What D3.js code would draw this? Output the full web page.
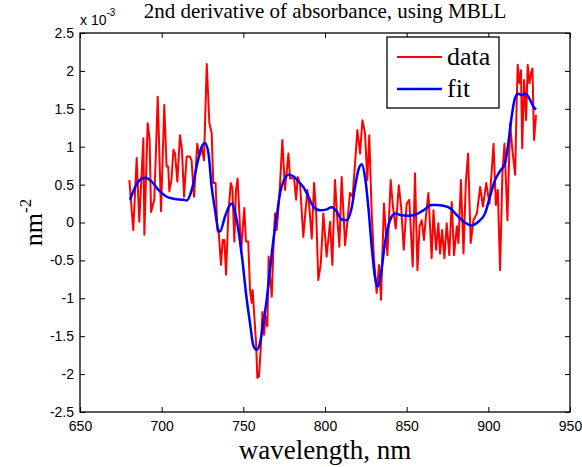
<!DOCTYPE html>
<html>
<head>
<meta charset="utf-8">
<script src="https://cdn.jsdelivr.net/npm/d3@7"></script>
<style>
  body { margin: 0; background: #fff; }
  svg { display: block; }
  .tick-label { font-family: "Liberation Sans", Arial, sans-serif; font-size: 14px; fill: #000; }
  .serif { font-family: "Liberation Serif", "Times New Roman", serif; fill: #000; }
</style>
</head>
<body>
<svg id="chart" width="582" height="467"></svg>
<script>
// measured data (values in units of 1e-3 nm^-2)
const dataWl = [
  680.2, 682.6, 684.7, 686.3, 688.8, 689.4, 691.4, 692.6, 693.5, 695.5,
  697.6, 699.6, 701.6, 703.0, 704.0, 704.7, 706.0, 707.2, 708.2, 709.6,
  711.2, 712.4, 713.7, 715.3, 717.3, 718.3, 719.8, 721.8, 723.0, 724.6,
  725.9, 727.6, 729.2, 730.6, 731.6, 733.0, 734.1, 735.0, 736.3, 737.4,
  738.4, 739.4, 740.8, 742.3, 743.3, 744.5, 745.5, 746.5, 747.6, 748.6,
  749.6, 750.6, 751.6, 753.0, 754.1, 755.1, 755.7, 756.8, 757.8, 758.6,
  759.6, 760.6, 761.7, 762.7, 763.7, 764.7, 765.5, 766.3, 767.4, 768.4,
  769.4, 770.4, 771.4, 772.5, 773.9, 775.5, 777.6, 778.6, 779.6, 781.0,
  782.3, 783.3, 784.7, 786.7, 789.2, 790.4, 791.9, 793.3, 794.6, 795.9,
  797.4, 799.0, 801.0, 803.1, 804.5, 806.1, 807.6, 808.8, 810.2, 812.3,
  813.9, 815.3, 816.9, 818.4, 819.8, 821.5, 822.9, 824.5, 825.9, 827.1,
  828.6, 830.0, 831.6, 833.1, 834.3, 836.1, 838.2, 840.2, 841.6, 843.3,
  845.2, 846.6, 848.2, 850.0, 851.6, 853.7, 855.1, 856.6, 857.9, 859.2,
  860.6, 861.8, 863.3, 865.3, 866.4, 868.0, 869.4, 870.4, 871.7, 873.1,
  874.5, 876.1, 877.6, 879.0, 880.7, 881.7, 883.2, 884.8, 886.2, 887.6,
  889.2, 890.9, 893.0, 895.0, 896.7, 898.7, 900.7, 903.2, 904.6, 905.8,
  907.2, 908.6, 909.9, 911.7, 913.3, 914.7, 916.4, 917.4, 918.0, 919.0,
  920.0, 920.7, 921.9, 923.1, 924.1, 925.2, 926.1, 927.0, 928.0, 929.2
];
const dataVal = [
  0.56, -0.10, 0.85, 0.01, 1.11, -0.16, 1.31, 1.11, 0.14, 0.30,
  1.66, 0.15, 1.55, 0.74, 0.74, 0.41, 0.56, 0.96, 0.91, 0.54,
  1.15, 0.96, 0.34, 0.87, 0.87, 0.82, 0.34, 1.04, 0.87, 0.98,
  0.82, 2.09, 1.31, 1.18, 0.52, 0.52, -0.10, -0.15, -0.56, -0.23,
  -0.23, -0.69, 0.10, 0.52, 0.45, -0.25, 0.43, 0.58, 0.10, -0.40,
  -0.08, 0.19, -0.25, -0.25, -0.89, -1.06, -0.89, -1.26, -1.59, -2.05,
  -2.03, -1.68, -1.18, -1.48, -1.24, -1.37, -0.45, -0.71, -0.98, -0.35,
  0.12, -0.10, 0.16, 0.52, 1.09, 0.43, 0.91, 0.58, 0.58, 0.60,
  0.30, 0.60, 0.52, -0.19, 0.43, 0.21, -0.21, 0.52, 0.12, -0.76,
  -0.55, 0.12, -0.45, 0.01, -0.56, 0.56, 0.03, -0.32, 0.60, -0.30,
  0.05, 0.39, 0.34, 0.78, 1.22, 0.91, 1.35, 1.18, 0.56, 1.15,
  0.12, -0.49, -0.93, -0.56, -1.02, 0.25, -0.43, 0.56, 0.21, -0.08,
  0.49, 0.21, -0.36, 0.25, 0.30, -0.58, 0.65, -0.63, -0.05, 0.03,
  -0.23, 0.08, 0.39, -0.47, 0.16, -0.36, -0.01, -0.41, -0.10, -0.47,
  -0.01, -0.43, 0.27, -0.43, -0.05, -0.27, 0.56, -0.41, 0.52, 0.91,
  -0.27, 0.03, 0.12, 0.47, 0.21, 0.52, 0.25, 1.04, 0.23, 0.43,
  -0.63, 0.65, 1.04, 0.03, 1.31, 0.96, 0.63, 1.62, 2.08, 1.84,
  2.01, 0.98, 1.88, 1.35, 2.08, 1.84, 1.97, 2.03, 1.09, 1.42
];
const fitWl = [
  680.6, 685.7, 689.8, 693.9, 698.0, 703.1, 708.2, 713.3, 715.3, 718.4,
  721.8, 724.5, 726.5, 728.6, 730.6, 732.7, 734.7, 735.7, 738.8, 741.8,
  743.3, 745.5, 747.6, 749.6, 751.6, 754.1, 756.1, 758.2, 760.2, 762.2,
  764.3, 766.3, 768.4, 770.4, 772.5, 774.9, 777.6, 780.6, 783.7, 786.7,
  789.0, 792.9, 797.0, 800.5, 804.1, 807.0, 810.2, 813.3, 816.3, 818.4,
  820.4, 822.5, 824.5, 826.5, 828.6, 830.6, 832.2, 834.3, 836.7, 839.8,
  842.9, 845.9, 851.0, 855.0, 860.2, 865.3, 868.4, 872.4, 876.5, 880.6,
  885.7, 889.8, 893.9, 898.0, 901.0, 904.1, 907.2, 910.2, 912.2, 914.3,
  916.3, 918.4, 920.4, 922.9, 925.5, 927.5, 929.2
];
const fitVal = [
  0.30, 0.54, 0.59, 0.54, 0.43, 0.34, 0.31, 0.30, 0.29, 0.43,
  0.78, 1.00, 1.05, 0.92, 0.47, 0.16, -0.10, -0.12, 0.08, 0.23,
  0.25, 0.08, -0.19, -0.53, -0.93, -1.33, -1.62, -1.68, -1.59, -1.33,
  -1.02, -0.63, -0.23, 0.08, 0.39, 0.56, 0.63, 0.61, 0.54, 0.47,
  0.38, 0.21, 0.16, 0.17, 0.20, 0.15, 0.04, 0.03, 0.19, 0.47,
  0.69, 0.77, 0.60, 0.21, -0.32, -0.72, -0.85, -0.67, -0.27, 0.03,
  0.12, 0.10, 0.09, 0.10, 0.16, 0.23, 0.23, 0.22, 0.19, 0.10,
  0.00, -0.04, 0.01, 0.12, 0.34, 0.56, 0.68, 0.78, 1.04, 1.40,
  1.64, 1.70, 1.68, 1.70, 1.62, 1.53, 1.49
];

const xTicks = [650, 700, 750, 800, 850, 900, 950];
const yTicks = [-2.5, -2, -1.5, -1, -0.5, 0, 0.5, 1, 1.5, 2, 2.5];
const legendItems = [
  { label: "data", color: "#ff0000" },
  { label: "fit", color: "#0000ff" },
];

const svg = d3.select("#chart");
const margin = { top: 33, right: 12, bottom: 55, left: 80 };
const width = 582, height = 467;
const innerW = width - margin.left - margin.right;
const innerH = height - margin.top - margin.bottom;
const midX = margin.left + innerW / 2;

const x = d3.scaleLinear().domain([650, 950]).range([margin.left, margin.left + innerW]);
const y = d3.scaleLinear().domain([-2.5, 2.5]).range([margin.top + innerH, margin.top]);

const fmt = (d) => String(d);

// ---------------------------
// Axes (MATLAB style box, inward ticks on all four sides)
// ---------------------------
const tickLen = 5;

const xAxisB = d3.axisBottom(x).tickValues(xTicks).tickSizeInner(-tickLen).tickSizeOuter(0).tickPadding(9).tickFormat(fmt);
const xAxisT = d3.axisTop(x).tickValues(xTicks).tickSizeInner(-tickLen).tickSizeOuter(0).tickFormat("");
const yAxisL = d3.axisLeft(y).tickValues(yTicks).tickSizeInner(-tickLen).tickSizeOuter(0).tickPadding(6).tickFormat(fmt);
const yAxisR = d3.axisRight(y).tickValues(yTicks).tickSizeInner(-tickLen).tickSizeOuter(0).tickFormat("");

function styleAxis(g) {
  g.select(".domain").remove();
  g.selectAll(".tick line").attr("stroke", "#000").attr("stroke-width", 1);
  g.selectAll(".tick text").attr("class", "tick-label");
}

svg.append("g").attr("transform", `translate(0,${margin.top + innerH})`).call(xAxisB).call(styleAxis);
svg.append("g").attr("transform", `translate(0,${margin.top})`).call(xAxisT).call(styleAxis);
svg.append("g").attr("transform", `translate(${margin.left},0)`).call(yAxisL).call(styleAxis);
svg.append("g").attr("transform", `translate(${margin.left + innerW},0)`).call(yAxisR).call(styleAxis);

// ---------------------------
// Lines
// ---------------------------
const dataPts = dataWl.map((w, i) => [w, dataVal[i]]);
const fitPts = fitWl.map((w, i) => [w, fitVal[i]]);

const rawLine = d3.line().x((d) => x(d[0])).y((d) => y(d[1]));
const smoothLine = d3.line().x((d) => x(d[0])).y((d) => y(d[1])).curve(d3.curveMonotoneX);

svg.append("path")
  .datum(dataPts)
  .attr("fill", "none")
  .attr("stroke", "#ff0000")
  .attr("stroke-width", 2)
  .attr("stroke-linejoin", "round")
  .attr("d", rawLine);

svg.append("path")
  .datum(fitPts)
  .attr("fill", "none")
  .attr("stroke", "#0000ff")
  .attr("stroke-width", 2.5)
  .attr("stroke-linejoin", "round")
  .attr("d", smoothLine);

// axes box
svg.append("rect")
  .attr("x", margin.left)
  .attr("y", margin.top)
  .attr("width", innerW)
  .attr("height", innerH)
  .attr("fill", "none")
  .attr("stroke", "#000")
  .attr("stroke-width", 1.3);

// ---------------------------
// Legend
// ---------------------------
const legend = svg.append("g").attr("transform", "translate(387,37)");
legend.append("rect")
  .attr("width", 112)
  .attr("height", 71)
  .attr("fill", "#fff")
  .attr("stroke", "#000")
  .attr("stroke-width", 1.3);

legend.selectAll("g.item")
  .data(legendItems)
  .join("g")
  .attr("class", "item")
  .attr("transform", (d, i) => `translate(0,${20 + i * 32})`)
  .each(function (d) {
    const g = d3.select(this);
    g.append("line")
      .attr("x1", 10).attr("x2", 55)
      .attr("stroke", d.color)
      .attr("stroke-width", d.label === "fit" ? 2.5 : 2);
    g.append("text")
      .attr("class", "serif")
      .attr("x", 60)
      .attr("y", 8)
      .attr("font-size", 26)
      .text(d.label);
  });

// ---------------------------
// Titles and labels
// ---------------------------
svg.append("text")
  .attr("class", "serif")
  .attr("x", midX)
  .attr("y", 18)
  .attr("text-anchor", "middle")
  .attr("font-size", 21)
  .text("2nd derivative of absorbance, using MBLL");

const expo = svg.append("text")
  .attr("class", "tick-label")
  .attr("x", margin.left)
  .attr("y", 25);
expo.append("tspan").text("x 10");
expo.append("tspan").attr("dy", -9).attr("font-size", 10).text("-3");

svg.append("text")
  .attr("class", "serif")
  .attr("x", midX)
  .attr("y", 459)
  .attr("text-anchor", "middle")
  .attr("font-size", 27)
  .text("wavelength, nm");

const ylab = svg.append("text")
  .attr("class", "serif")
  .attr("transform", `translate(42,${y(0)}) rotate(-90)`)
  .attr("text-anchor", "middle")
  .attr("font-size", 26);
ylab.append("tspan").text("nm");
ylab.append("tspan").attr("dy", -11).attr("font-size", 17).text("-2");
</script>
</body>
</html>
